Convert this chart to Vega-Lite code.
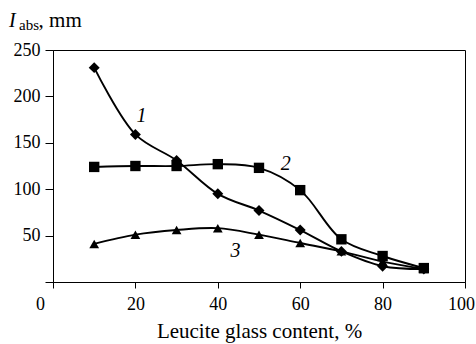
{
  "$schema": "https://vega.github.io/schema/vega-lite/v6.json",
  "autosize": {"type": "none"},
  "padding": {"left": 53, "top": 50, "right": 11, "bottom": 62},
  "width": 412,
  "height": 232,
  "config": {
    "view": {"stroke": "black", "strokeWidth": 1},
    "font": "Liberation Serif",
    "axis": {
      "grid": false,
      "domainColor": "black",
      "tickColor": "black",
      "labelColor": "black",
      "titleColor": "black",
      "labelFont": "Liberation Serif",
      "titleFont": "Liberation Serif",
      "labelFontSize": 18,
      "titleFontWeight": "normal"
    }
  },
  "datasets": {
    "curves": [
      {"series": "1", "x": 10, "y": 231},
      {"series": "1", "x": 20, "y": 159},
      {"series": "1", "x": 30, "y": 131},
      {"series": "1", "x": 40, "y": 95},
      {"series": "1", "x": 50, "y": 77},
      {"series": "1", "x": 60, "y": 56},
      {"series": "1", "x": 70, "y": 33},
      {"series": "1", "x": 80, "y": 17},
      {"series": "1", "x": 90, "y": 14},
      {"series": "2", "x": 10, "y": 124},
      {"series": "2", "x": 20, "y": 125},
      {"series": "2", "x": 30, "y": 125},
      {"series": "2", "x": 40, "y": 127},
      {"series": "2", "x": 50, "y": 123},
      {"series": "2", "x": 60, "y": 99},
      {"series": "2", "x": 70, "y": 46},
      {"series": "2", "x": 80, "y": 28},
      {"series": "2", "x": 90, "y": 15},
      {"series": "3", "x": 10, "y": 41},
      {"series": "3", "x": 20, "y": 51},
      {"series": "3", "x": 30, "y": 56},
      {"series": "3", "x": 40, "y": 58},
      {"series": "3", "x": 50, "y": 51},
      {"series": "3", "x": 60, "y": 42},
      {"series": "3", "x": 70, "y": 33},
      {"series": "3", "x": 80, "y": 22},
      {"series": "3", "x": 90, "y": 14}
    ],
    "labels": [
      {"text": "1", "x": 21.5, "y": 179},
      {"text": "2", "x": 56.5, "y": 127},
      {"text": "3", "x": 44.3, "y": 33}
    ]
  },
  "layer": [
    {
      "data": {"name": "curves"},
      "mark": {"type": "line", "interpolate": "catmull-rom", "color": "black", "strokeWidth": 1.9},
      "encoding": {
        "x": {
          "field": "x", "type": "quantitative",
          "scale": {"domain": [0, 100], "nice": false},
          "axis": {
            "values": [0, 20, 40, 60, 80, 100],
            "title": "Leucite glass content, %",
            "titleFontSize": 21,
            "titlePadding": 7,
            "tickSize": 6,
            "labelPadding": 7,
            "labelOffset": {"expr": "datum.value == 0 ? -13 : (datum.value == 100 ? -4 : 0)"},
            "labelFlush": false
          }
        },
        "y": {
          "field": "y", "type": "quantitative",
          "scale": {"domain": [0, 250], "nice": false},
          "axis": {
            "values": [0, 50, 100, 150, 200, 250],
            "labelExpr": "datum.value == 0 ? '' : datum.label",
            "title": null,
            "tickSize": 8,
            "labelPadding": 5
          }
        },
        "detail": {"field": "series", "type": "nominal"}
      }
    },
    {
      "data": {"name": "curves"},
      "mark": {"type": "point", "filled": true, "opacity": 1, "color": "black"},
      "encoding": {
        "x": {"field": "x", "type": "quantitative"},
        "y": {"field": "y", "type": "quantitative"},
        "shape": {
          "field": "series", "type": "nominal",
          "scale": {"domain": ["1", "2", "3"], "range": ["diamond", "square", "triangle-up"]},
          "legend": null
        },
        "size": {
          "field": "series", "type": "nominal",
          "scale": {"domain": ["1", "2", "3"], "range": [120, 95, 115]},
          "legend": null
        }
      }
    },
    {
      "data": {"name": "labels"},
      "mark": {"type": "text", "fontStyle": "italic", "fontSize": 20, "color": "black", "font": "Liberation Serif"},
      "encoding": {
        "x": {"field": "x", "type": "quantitative"},
        "y": {"field": "y", "type": "quantitative"},
        "text": {"field": "text"}
      }
    },
    {
      "data": {"values": [{"text": "I", "x": -10.7, "y": 275.1}]},
      "mark": {"type": "text", "fontStyle": "italic", "fontSize": 20, "color": "black", "align": "left", "baseline": "alphabetic", "font": "Liberation Serif"},
      "encoding": {
        "x": {"field": "x", "type": "quantitative"},
        "y": {"field": "y", "type": "quantitative"},
        "text": {"field": "text"}
      }
    },
    {
      "data": {"values": [{"text": "abs", "x": -8.25, "y": 271.6}]},
      "mark": {"type": "text", "fontSize": 15, "color": "black", "align": "left", "baseline": "alphabetic", "font": "Liberation Serif"},
      "encoding": {
        "x": {"field": "x", "type": "quantitative"},
        "y": {"field": "y", "type": "quantitative"},
        "text": {"field": "text"}
      }
    },
    {
      "data": {"values": [{"text": ", mm", "x": -3.5, "y": 275.1}]},
      "mark": {"type": "text", "fontSize": 21, "color": "black", "align": "left", "baseline": "alphabetic", "font": "Liberation Serif"},
      "encoding": {
        "x": {"field": "x", "type": "quantitative"},
        "y": {"field": "y", "type": "quantitative"},
        "text": {"field": "text"}
      }
    }
  ]
}
